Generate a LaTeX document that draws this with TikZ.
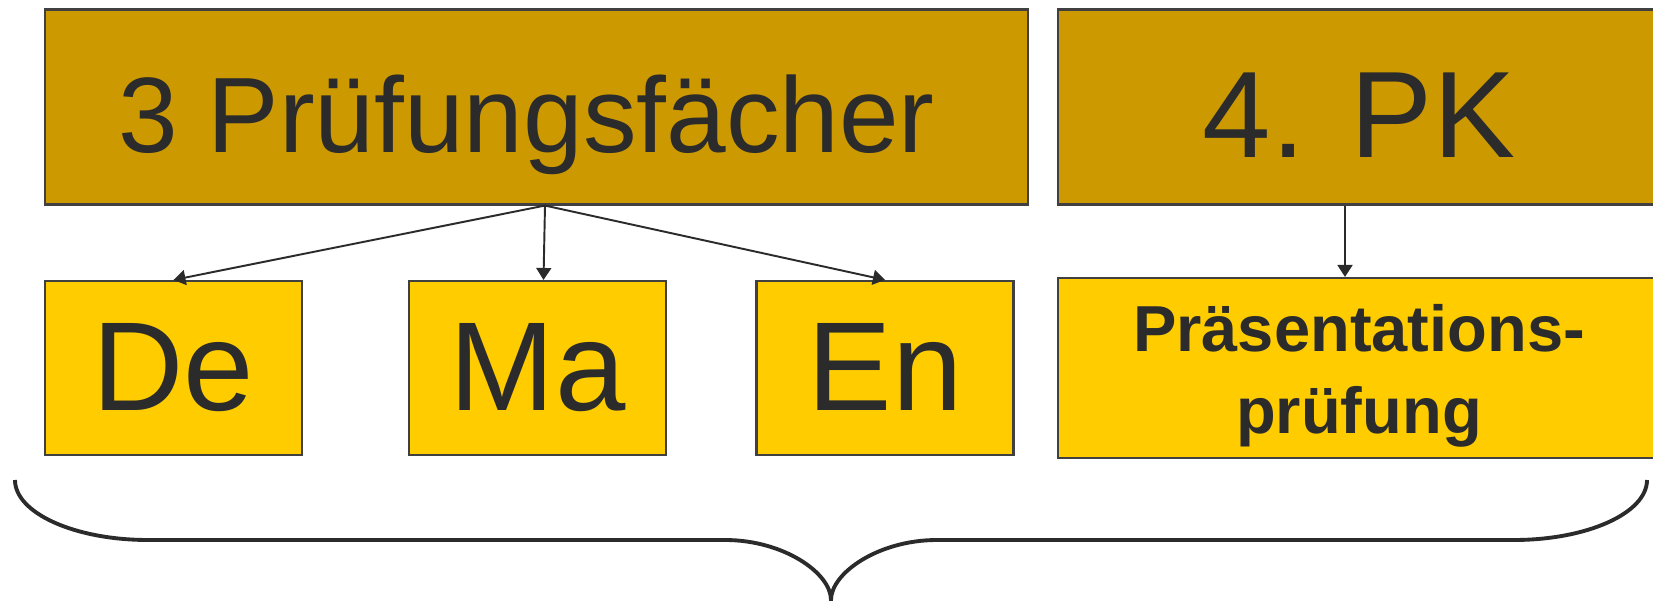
\documentclass[tikz,border=0pt]{standalone}
\usepackage{fontspec}
\setmainfont{Liberation Sans}
\usetikzlibrary{positioning, arrows.meta}
\definecolor{gold}{HTML}{CC9900}
\definecolor{yellowbox}{HTML}{FFCC00}
\definecolor{ink}{HTML}{2B2B2B}
\tikzset{
>={Triangle[length=0.12cm, width=0.15cm]}, % filled arrow heads
box/.style={draw=ink!90, line width=0.6pt, inner sep=0pt, text=ink, align=center}, % every rectangle
head/.style={box, fill=gold, minimum height=1.95cm, text depth=0pt}, % the two upper boxes
subject/.style={box, fill=yellowbox, minimum height=1.74cm, minimum width=2.57cm, text height=0.86cm, text depth=0pt, font=\fontsize{36}{40}\selectfont}, % the subject boxes
link/.style={->, draw=ink, line width=0.55pt}, % arrows between boxes
}

\begin{document}
\begin{tikzpicture}
\useasboundingbox (0,0) rectangle (16.53,6.00);

\node[head, minimum width=9.83cm, text height=0.92cm, font=\fontsize{30.5}{36}\selectfont] at (5.365,4.93) (faecher) {3 Prüfungsfächer\hspace{0.2cm}};
\node[head, minimum width=6.02cm, text height=1.02cm, font=\fontsize{35}{40}\selectfont] at (13.59,4.93) (pk) {4. PK};

\node[subject] at (1.735,2.32) (de) {De};
\node[subject] at (5.375,2.32) (ma) {Ma};
\node[subject] at (8.85,2.32) (en) {En};
\node[box, fill=yellowbox, minimum width=6.02cm, minimum height=1.80cm, font=\bfseries\fontsize{18.5}{23.2}\selectfont] at (13.59,2.32) (praes) {\rule{0pt}{18pt}Präsentations-\\prüfung};

\draw[link] ([xshift=0.085cm]faecher.south) -- (de.north);
\draw[link] ([xshift=0.085cm]faecher.south) -- ([xshift=0.06cm]ma.north);
\draw[link] ([xshift=0.085cm]faecher.south) -- (en.north);
\draw[link] ([xshift=-0.14cm]pk.south) -- ([xshift=-0.14cm]praes.north);

% curly brace under all four exams
\draw[ink, line width=1.1pt] (0.15,1.20) .. controls (0.15,0.87) and (0.746,0.60) .. (1.48,0.60)
  -- (7.25,0.60) .. controls (7.835,0.60) and (8.31,0.27) .. (8.31,0.00)
  .. controls (8.31,0.27) and (8.785,0.60) .. (9.37,0.60)
  -- (15.14,0.60) .. controls (15.874,0.60) and (16.47,0.87) .. (16.47,1.20);

\end{tikzpicture}
\end{document}
